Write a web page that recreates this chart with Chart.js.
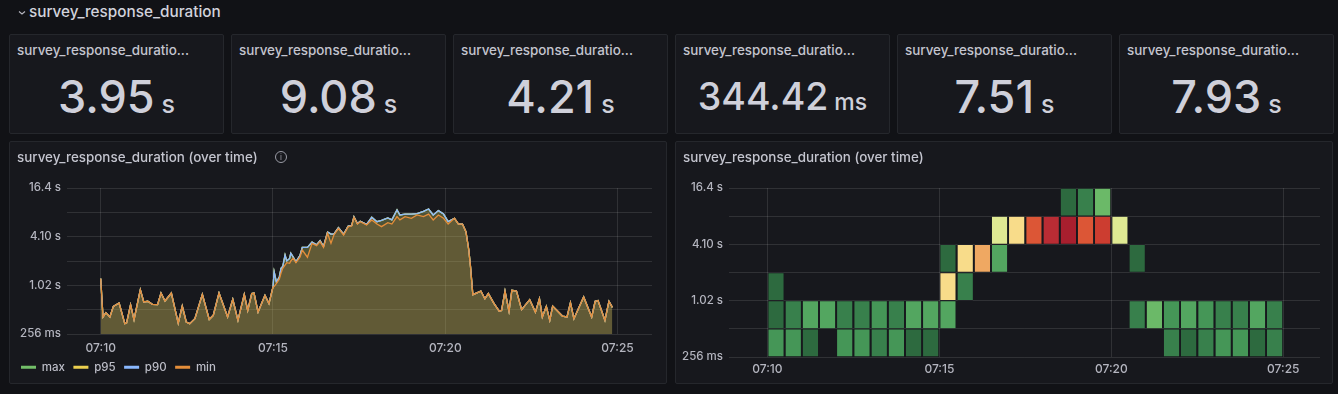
<!DOCTYPE html>
<html><head><meta charset="utf-8">
<script src="https://cdn.jsdelivr.net/npm/chart.js@4"></script>
<style>
html,body{margin:0;padding:0;background:#111216;width:1338px;height:394px;overflow:hidden;font-family:Inter,"Noto Sans",sans-serif;color:#ccccdc}
.panel{position:absolute;background:#17181d;border:1px solid #25272c;border-radius:2px;box-sizing:border-box}
.head{position:absolute;left:29px;top:3px;font-size:15.3px;font-weight:500;line-height:18px;color:#d2d3dc}
.chev{position:absolute;left:18px;top:10px}
.title{position:absolute;left:7px;top:7px;font-size:13.4px;font-weight:500;line-height:16px;color:#c4c5cf;white-space:nowrap}
.val{position:absolute;left:0;right:0;text-align:center;color:#cfd0da;font-weight:500;white-space:nowrap}
.val small{font-weight:500}
canvas{position:absolute;left:0;top:0}
.info{position:absolute;left:265px;top:9px;width:12px;height:12px;border:1px solid #9a9ba5;border-radius:50%;box-sizing:border-box;font-size:8px;line-height:10px;text-align:center;color:#9a9ba5}
</style></head><body>
<div class="head">survey_response_duration</div>
<svg class="chev" width="8" height="6"><path d="M1 1.5 L4 4 L7 1.5" fill="none" stroke="#b5b6c0" stroke-width="1.1"/></svg>
<div id="stats"></div>
<div class="panel" style="left:9px;top:141px;width:658px;height:243px"><canvas id="line" width="656" height="241"></canvas><div class="title">survey_response_duration (over time)</div><div class="info">i</div></div>
<div class="panel" style="left:675px;top:141px;width:658px;height:243px"><canvas id="heat" width="656" height="241"></canvas><div class="title">survey_response_duration (over time)</div></div>
<script>
const statTitle = 'survey_response_duratio...';
const statValues = ['3.95','9.08','4.21','344.42','7.51','7.93'];
const statUnits = ['s','s','s','ms','s','s'];
const statLefts = [9,231,453,675,897,1119];

const yTickValues = [0.256,0.512,1.024,2.048,4.096,8.192,16.384];
const yTickLabels = ['256 ms','','1.02 s','','4.10 s','','16.4 s'];
const xTickValues = [0,300,600,900];
const xTickLabels = ['07:10','07:15','07:20','07:25'];
const seriesNames = ['max','p95','p90','min'];

const times = [0,4,9,16,22,32,42,45,52,58,69,75,82,90,99,105,112,123,135,142,149,155,164,177,189,196,206,221,230,239,250,256,263,267,274,286,293,
300,302,306,311,314,317,321,324,329,331,335,338,340,347,351,360,368,376,382,388,395,401,406,414,423,431,437,441,447,452,463,472,481,489,500,507,516,521,530,541,551,562,571,579,588,597,605,616,623,630,636,641,644,648,
662,669,675,685,694,698,704,711,716,724,733,747,757,764,769,776,782,787,804,812,818,824,841,855,861,866,878,885,891];
const minV = [1.24,.416,.47,.416,.563,.619,.344,.35,.59,.385,.905,.637,.65,.596,.59,.823,.656,.823,.35,.567,.36,.344,.396,.792,.388,.436,.823,.416,.688,.378,.792,.50,.81,.823,.478,.77,.608,
.976,.99,1.08,1.22,1.45,1.66,1.82,1.95,1.92,2.05,2.21,2.05,1.95,2.28,2.80,2.28,3.39,3.17,3.55,3.02,4.51,3.39,4.30,5.2,4.30,5.45,5.55,7.12,5.87,6.28,5.72,6.6,5.87,5.45,6.1,5.87,7.24,6.6,7.24,6.92,7.6,7.24,7.8,6.6,7.6,6.92,5.87,6.92,5.87,5.87,4.71,2.80,1.73,.785,
.87,.70,.81,.608,.49,.50,.87,.49,.89,.87,.512,.68,.478,.70,.416,.563,.378,.567,.427,.416,.625,.396,.734,.416,.65,.666,.378,.65,.546];
const p90V = [1.24,.416,.47,.416,.563,.619,.344,.35,.59,.385,.905,.637,.65,.596,.59,.823,.656,.823,.35,.567,.36,.344,.396,.792,.388,.436,.823,.416,.688,.378,.792,.50,.81,.823,.478,.77,.608,
.976,1.51,1.12,1.3,1.66,1.75,2.43,2.05,2.2,2.56,2.3,2.12,2.0,2.4,3.02,3.02,3.5,3.25,3.65,3.1,4.68,4.4,4.4,5.3,4.4,5.55,5.65,7.2,5.95,6.35,5.8,7.12,6.28,6.5,7.0,6.6,8.8,7.6,7.8,7.8,7.9,8.4,9.0,7.6,8.6,7.8,6.3,6.92,5.87,5.87,4.71,2.80,1.73,.785,
.87,.70,.81,.608,.49,.50,.87,.49,.89,.87,.512,.68,.478,.70,.416,.563,.378,.567,.427,.416,.625,.396,.734,.416,.65,.666,.378,.65,.546];
const p95V = p90V;
const maxV = p90V;

const heatEdges = [0.256,0.512,1.024,2.048,4.096,8.192,16.384];
const heatStep = 30;
const row0 = [4,4,2,null,4,4,3,4,2,2,null,null,null,null,null,null,null,null,null,null,null,null,null,3,2,3,4,4,2,3];
const row1 = [2,3,5,5,3,3,4,3,5,5,5,null,null,null,null,null,null,null,null,null,null,3,6,4,5,4,3,3,5,3];
const row2 = [2,null,null,null,null,null,null,null,null,null,8,3,null,null,null,null,null,null,null,null,null,null,null,null,null,null,null,null,null,null];
const row3 = [null,null,null,null,null,null,null,null,null,null,2,8,9,5,null,null,null,null,null,null,null,2,null,null,null,null,null,null,null,null];
const row4 = [null,null,null,null,null,null,null,null,null,null,null,null,null,7,8,11,13,14,11,12,7,null,null,null,null,null,null,null,null,null];
const row5 = [null,null,null,null,null,null,null,null,null,null,null,null,null,null,null,null,null,2,3,6,null,null,null,null,null,null,null,null,null,null];
const heatRows = [row0,row1,row2,row3,row4,row5];
const heatPalette = {2:'#2d6a3f',3:'#38804c',4:'#459657',5:'#53a660',6:'#6bb968',7:'#dfe993',8:'#f8dc8a',9:'#efa862',11:'#dc5636',12:'#cc3d30',13:'#b92c34',14:'#a81f2e'};

const lineColors = ['#73bf69','#ecd04f','#8ab8ff','#e58e3a'];
const fillColors = ['rgba(115,191,105,.14)','rgba(236,208,79,.2)','rgba(138,184,255,.04)','rgba(229,142,58,.14)'];
const seriesData = [maxV,p95V,p90V,minV];
const gridColor = 'rgba(255,255,255,.11)';
const tickColor = '#b4b5bf';
const font = {family:'Inter,"Noto Sans",sans-serif',size:11.5,weight:'500'};
const xFont = {family:'Inter,"Noto Sans",sans-serif',size:12,weight:'500'};

document.getElementById('stats').innerHTML = statValues.map((v,i)=>{
  const big = statUnits[i]==='ms';
  return `<div class="panel" style="left:${statLefts[i]}px;top:34px;width:215px;height:100px"><div class="title" style="top:7px;left:7px">${statTitle}</div><div class="val" style="top:34px;font-size:${big?37.5:45}px;line-height:56px">${v}<small style="font-size:${big?23:25}px;margin-left:${big?6:7}px">${statUnits[i]}</small></div></div>`;
}).join('');

function yScale(){return {type:'logarithmic',min:yTickValues[0],max:yTickValues[6],
  afterBuildTicks:s=>{s.ticks=yTickValues.map(value=>({value}));},
  afterFit:null,
  grid:{color:gridColor,drawTicks:false},border:{display:false},
  ticks:{autoSkip:false,color:tickColor,font,padding:6,callback:v=>{const i=yTickValues.indexOf(v);return i<0?'':yTickLabels[i];}}};}
function xScale(min,max,h,pad){return {type:'linear',min,max,offset:false,
  afterBuildTicks:s=>{s.ticks=xTickValues.map(value=>({value}));},
  afterFit:s=>{s.height=h;},
  grid:{color:gridColor,drawTicks:false,offset:false},border:{display:false},
  ticks:{autoSkip:false,maxRotation:0,color:tickColor,font:xFont,padding:pad,callback:v=>xTickLabels[xTickValues.indexOf(v)]}};}

const ly = yScale(); ly.afterFit=s=>{s.width=54.5;};
new Chart(document.getElementById('line'),{type:'line',
  data:{datasets:seriesNames.map((name,i)=>({label:name,order:4-i,
    data:times.map((t,j)=>({x:t,y:seriesData[i][j]})),
    borderColor:lineColors[i],backgroundColor:fillColors[i],borderWidth:1.3,pointRadius:0,fill:'start',tension:0}))},
  options:{responsive:false,animation:false,
    layout:{padding:{top:46,right:14,left:2.5,bottom:0}},
    scales:{x:xScale(-58.7,960,19,7),y:ly},
    plugins:{tooltip:{enabled:false},legend:{position:'bottom',align:'start',
      labels:{boxWidth:15,boxHeight:3,padding:8.5,color:'#bcbdc7',font,
        sort:(a,b)=>a.datasetIndex-b.datasetIndex,
        generateLabels:c=>seriesNames.map((name,i)=>({text:name,datasetIndex:i,fillStyle:lineColors[i],strokeStyle:lineColors[i],lineWidth:0,fontColor:'#bcbdc7'}))}}}}});

const hy = yScale(); hy.afterFit=s=>{s.width=53;};
new Chart(document.getElementById('heat'),{type:'bar',
  data:{datasets:heatRows.map((row,r)=>({label:'bin'+r,grouped:false,
    data:row.map((c,i)=>c===null?null:{x:i*heatStep+heatStep/2,y:[heatEdges[r],heatEdges[r+1]],c}).filter(Boolean),
    backgroundColor:ctx=>heatPalette[ctx.raw.c],
    borderColor:'#17181d',borderWidth:{top:.7,bottom:.7,left:0,right:0},borderSkipped:false,
    barPercentage:.9,categoryPercentage:1}))},
  options:{responsive:false,animation:false,
    layout:{padding:{top:46,right:12,left:0,bottom:0}},
    scales:{x:xScale(-67,964,26,5),y:hy},
    plugins:{tooltip:{enabled:false},legend:{display:false}}}});
</script>
</body></html>
